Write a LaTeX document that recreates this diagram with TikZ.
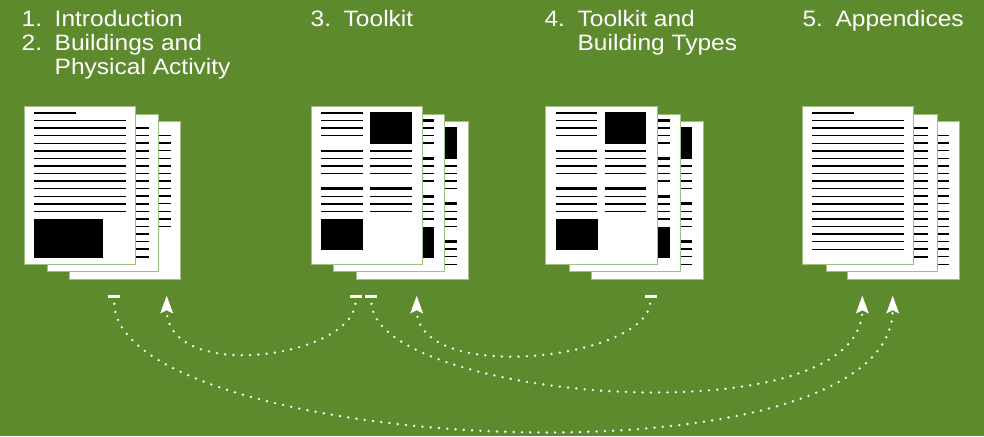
\documentclass[tikz,border=0pt]{standalone}
\usepackage{fontspec}
\newfontfamily\hdfont{Liberation Sans}[FakeStretch=1.1]
\usetikzlibrary{arrows.meta}
\definecolor{bggreen}{RGB}{94,138,46}
\definecolor{paperedge}{RGB}{160,192,128}
\newcommand\pgrow[1]{{6.3+7.57*(#1)}}
\newcommand\pggroup[3]{%
  \draw[hline] (#1,\pgrow{#3}) -- (#2,\pgrow{#3});
  \foreach \j in {1,2,3} \draw[tline] (#1,\pgrow{#3+\j}) -- (#2,\pgrow{#3+\j});}
\tikzset{
  paper/.style={fill=white, draw=paperedge, line width=0.9pt},
  tline/.style={line width=1.5pt, black},
  hline/.style={line width=2.7pt, black},
  img/.style={fill=black},
  hd/.style={text=white, inner sep=0pt, anchor=base west, font=\hdfont\fontsize{22.3}{24}\selectfont},
  markbar/.style={fill=white, rectangle, inner sep=0pt, minimum width=12pt, minimum height=2.6pt},
  dotline/.style={white, line width=2.6pt, line cap=round, dash pattern=on 0pt off 8.3pt,
    shorten <=6pt, -{Stealth[length=17.5pt,width=12.5pt,inset=3pt]}},
  textpage/.pic={
    \path[paper] (0,0) rectangle (111.5,157.3);
    \draw[hline] (10,6.3) -- (52,6.3);
    \foreach \k in {1,...,18} \draw[tline] (10,\pgrow{\k}) -- (101.5,\pgrow{\k});
  },
  introfront/.pic={
    \path[paper] (0,0) rectangle (111.5,157.3);
    \draw[hline] (10,6.3) -- (52,6.3);
    \foreach \k in {1,...,13} \draw[tline] (10,\pgrow{\k}) -- (101.5,\pgrow{\k});
    \fill[img] (10,112.3) rectangle (79,151.3);
  },
  introback/.pic={
    \path[paper] (0,0) rectangle (111.5,157.3);
    \draw[hline] (10,6.3) -- (52,6.3);
    \foreach \k in {1,...,13} \draw[tline] (10,\pgrow{\k}) -- (101.5,\pgrow{\k});
  },
  toolfront/.pic={
    \path[paper] (0,0) rectangle (111.5,157.3);
    \pggroup{10}{51.7}{0}\pggroup{10}{51.7}{5}\pggroup{10}{51.7}{10}
    \fill[img] (10,112.3) rectangle (52,143.6);
    \fill[img] (59,5.6) rectangle (100.7,37.3);
    \pggroup{59}{100.7}{5}\pggroup{59}{100.7}{10}
  },
  toolmid/.pic={
    \path[paper] (0,0) rectangle (111.5,157.3);
    \fill[img] (10,5.6) rectangle (51.7,37.3);
    \pggroup{10}{51.7}{5}\pggroup{10}{51.7}{10}
    \pggroup{59}{100.7}{0}\pggroup{59}{100.7}{5}\pggroup{59}{100.7}{10}
    \fill[img] (59,112.7) rectangle (100.7,143.7);
  },
  toolback/.pic={
    \path[paper] (0,0) rectangle (111.5,157.3);
    \pggroup{10}{51.7}{0}\pggroup{10}{51.7}{5}\pggroup{10}{51.7}{10}
    \fill[img] (59,5.6) rectangle (100.7,37.3);
    \pggroup{59}{100.7}{5}\pggroup{59}{100.7}{10}\pggroup{59}{100.7}{15}
  }
}
\begin{document}
\begin{tikzpicture}[x=1pt,y=-1pt]
\useasboundingbox (0,0) rectangle (984,436);
\fill[bggreen] (0,0) rectangle (984,436);

% headings
\node[hd] (h1) at (21.5,26.5) {\begin{tabular}[t]{@{}l@{}}\makebox[33pt][l]{1.}Introduction\\\makebox[33pt][l]{2.}Buildings and\\\hspace*{33pt}Physical Activity\end{tabular}};
\node[hd] (h3) at (310.5,26.5) {\begin{tabular}[t]{@{}l@{}}\makebox[33pt][l]{3.}Toolkit\end{tabular}};
\node[hd] (h4) at (544.4,26.5) {\begin{tabular}[t]{@{}l@{}}\makebox[33pt][l]{4.}Toolkit and\\\hspace*{33pt}Building Types\end{tabular}};
\node[hd] (h5) at (802.3,26.5) {\begin{tabular}[t]{@{}l@{}}\makebox[33pt][l]{5.}Appendices\end{tabular}};

% document stacks
\pic at (69,121.7) {introback};
\pic at (47,114.2) {textpage};
\pic at (24,106.7) {introfront};

\pic at (356.7,121.7) {toolback};
\pic at (333.3,114.2) {toolmid};
\pic at (311,106.7) {toolfront};

\pic at (591.7,121.7) {toolback};
\pic at (569,114.2) {toolmid};
\pic at (545.7,106.7) {toolfront};

\pic at (847.7,121.7) {textpage};
\pic at (826,114.2) {textpage};
\pic at (802.3,106.7) {textpage};

% markers and targets
\node[markbar] (s1) at (114,296.3) {};
\node[markbar] (s3a) at (356,296.3) {};
\node[markbar] (s3b) at (371,296.3) {};
\node[markbar] (s4) at (651,296.3) {};
\coordinate (t1) at (166.7,295.7);
\coordinate (t3) at (416.7,295.7);
\coordinate (t5a) at (862.3,295.7);
\coordinate (t5b) at (892.7,295.7);

% connectors
\draw[dotline] (s1) .. controls (120,452) and (892.7,495) .. (t5b);
\draw[dotline] (s3a) .. controls (350,358) and (166.7,383) .. (t1);
\draw[dotline] (s3b) .. controls (378,400) and (862.3,440) .. (t5a);
\draw[dotline] (s4) .. controls (643,360) and (416.7,385) .. (t3);
\end{tikzpicture}
\end{document}
